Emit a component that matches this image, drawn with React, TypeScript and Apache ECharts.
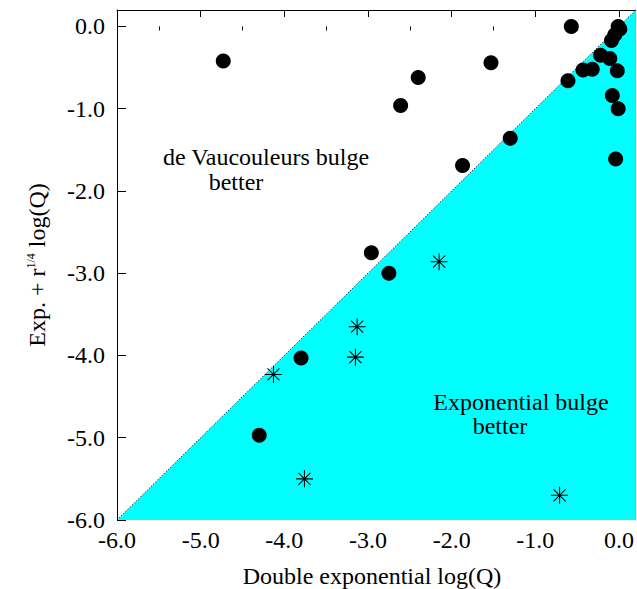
import React, { useEffect, useRef } from "react";
import * as echarts from "echarts";

// Circles: galaxies fitted (Double exponential log(Q), Exp. + r^1/4 log(Q))
const circlePoints: number[][] = [
  [-4.73, -0.42], [-2.4, -0.62], [-2.61, -0.96], [-1.53, -0.44], [-1.3, -1.36],
  [-1.87, -1.69], [-0.57, 0.0], [-0.61, -0.66], [-0.43, -0.53], [-0.32, -0.52],
  [-0.22, -0.35], [-0.11, -0.39], [-0.02, -0.54], [-0.08, -0.84], [-0.01, -1.0],
  [-0.04, -1.61], [-0.01, 0.0], [0.01, -0.03], [-0.05, -0.1], [-0.09, -0.17],
  [-2.96, -2.75], [-2.75, -3.0], [-3.8, -4.03], [-4.3, -4.97],
];
// Asterisks
const starPoints: number[][] = [
  [-2.15, -2.86], [-3.13, -3.65], [-3.15, -4.02], [-4.13, -4.23],
  [-3.76, -5.5], [-0.71, -5.7],
];
// Diagonal y = x
const diagonal: number[][] = [[-6, -6], [0.2, 0.2]];
const axisMin = -6;
const axisMax = 0.2;
const majorTicks = [-6, -5, -4, -3, -2, -1, 0];
const minorTicks = [-5.5, -4.5, -3.5, -2.5, -1.5, -0.5];

const FONT = "'Liberation Serif', 'Times New Roman', serif";

const starPath =
  "path://M-50 -3L50 -3L50 3L-50 3Z M-3 -50L3 -50L3 50L-3 50Z " +
  "M-37.48 -33.24L-33.24 -37.48L37.48 33.24L33.24 37.48Z " +
  "M-33.24 37.48L-37.48 33.24L33.24 -37.48L37.48 -33.24Z " +
  "M-9 0A9 9 0 1 1 9 0A9 9 0 1 1 -9 0Z";

export default function App() {
  const ref = useRef<HTMLDivElement>(null);
  useEffect(() => {
    if (!ref.current) return;
    const chart = echarts.init(ref.current, null, { renderer: "svg" });
    const base = {
      type: "value" as const,
      min: axisMin,
      max: axisMax,
      splitLine: { show: false },
    };
    const lbl = (v: number) => v.toFixed(1);
    chart.setOption({
      animation: false,
      backgroundColor: "#ffffff",
      grid: { left: 117, top: 10, width: 519, height: 510, containLabel: false },
      xAxis: [
        {
          ...base,
          position: "bottom",
          axisLine: { show: false },
          axisTick: { show: false },
          axisLabel: {
            customValues: majorTicks,
            formatter: lbl,
            color: "#000",
            fontFamily: FONT,
            fontSize: 24,
            margin: 8,
            showMaxLabel: true,
            showMinLabel: true,
          },
        },
        {
          ...base,
          position: "top",
          axisLine: { show: true, onZero: false, lineStyle: { color: "#000", width: 1 } },
          axisTick: { show: true, inside: true, length: 7, customValues: majorTicks, lineStyle: { color: "#000" } },
          axisLabel: { show: false },
        },
        {
          ...base,
          position: "top",
          axisLine: { show: false },
          axisTick: { show: true, inside: true, length: 4, customValues: minorTicks, lineStyle: { color: "#000" } },
          axisLabel: { show: false },
        },
      ],
      yAxis: [
        {
          ...base,
          position: "left",
          axisLine: { show: true, onZero: false, lineStyle: { color: "#000", width: 1 } },
          axisTick: { show: true, inside: true, length: 9, customValues: majorTicks, lineStyle: { color: "#000" } },
          axisLabel: {
            customValues: majorTicks,
            formatter: lbl,
            color: "#000",
            fontFamily: FONT,
            fontSize: 24,
            margin: 12,
          },
        },
        {
          ...base,
          position: "left",
          axisLine: { show: false },
          axisTick: { show: true, inside: true, length: 5, customValues: minorTicks, lineStyle: { color: "#000" } },
          axisLabel: { show: false },
        },
        {
          ...base,
          position: "right",
          axisLine: { show: true, onZero: false, lineStyle: { color: "#888", width: 1 } },
          axisTick: { show: false },
          axisLabel: { show: false },
        },
      ],
      series: [
        {
          type: "line",
          data: diagonal,
          showSymbol: false,
          symbol: "none",
          lineStyle: { color: "#000", width: 1, type: [1, 2] },
          areaStyle: { color: "#00ffff", opacity: 1, origin: "start" },
          z: 2,
        },
        {
          type: "scatter",
          data: circlePoints,
          symbol: "circle",
          symbolSize: 15,
          itemStyle: { color: "#000", opacity: 1 },
          z: 3,
        },
        {
          type: "scatter",
          data: starPoints,
          symbol: starPath,
          symbolSize: 17,
          itemStyle: { color: "#000", opacity: 1 },
          z: 3,
        },
      ],
      graphic: [
        {
          type: "text",
          x: 266,
          y: 157,
          style: { text: "de Vaucouleurs bulge", fontFamily: FONT, fontSize: 24, fill: "#000", align: "center", verticalAlign: "middle" },
          z: 10,
        },
        {
          type: "text",
          x: 236,
          y: 182,
          style: { text: "better", fontFamily: FONT, fontSize: 24, fill: "#000", align: "center", verticalAlign: "middle" },
          z: 10,
        },
        {
          type: "text",
          x: 521,
          y: 402,
          style: { text: "Exponential bulge", fontFamily: FONT, fontSize: 24, fill: "#000", align: "center", verticalAlign: "middle" },
          z: 10,
        },
        {
          type: "text",
          x: 500,
          y: 426,
          style: { text: "better", fontFamily: FONT, fontSize: 24, fill: "#000", align: "center", verticalAlign: "middle" },
          z: 10,
        },
        {
          type: "text",
          x: 372,
          y: 576,
          style: { text: "Double exponential log(Q)", fontFamily: FONT, fontSize: 24, fill: "#000", align: "center", verticalAlign: "middle" },
          z: 10,
        },
        {
          type: "text",
          x: 37,
          y: 265,
          rotation: Math.PI / 2,
          style: {
            text: "{n|Exp. + r}{s|1/4}{n| log(Q)}",
            align: "center",
            verticalAlign: "middle",
            fill: "#000",
            fontFamily: FONT,
            fontSize: 24,
            rich: {
              n: { fontFamily: FONT, fontSize: 24, fill: "#000", color: "#000" },
              s: { fontFamily: FONT, fontSize: 12, fill: "#000", color: "#000", verticalAlign: "top" },
            },
          },
          z: 10,
        },
      ],
    });
    return () => chart.dispose();
  }, []);
  return <div ref={ref} style={{ width: 637, height: 589, position: "absolute", left: 0, top: 0 }} />;
}
